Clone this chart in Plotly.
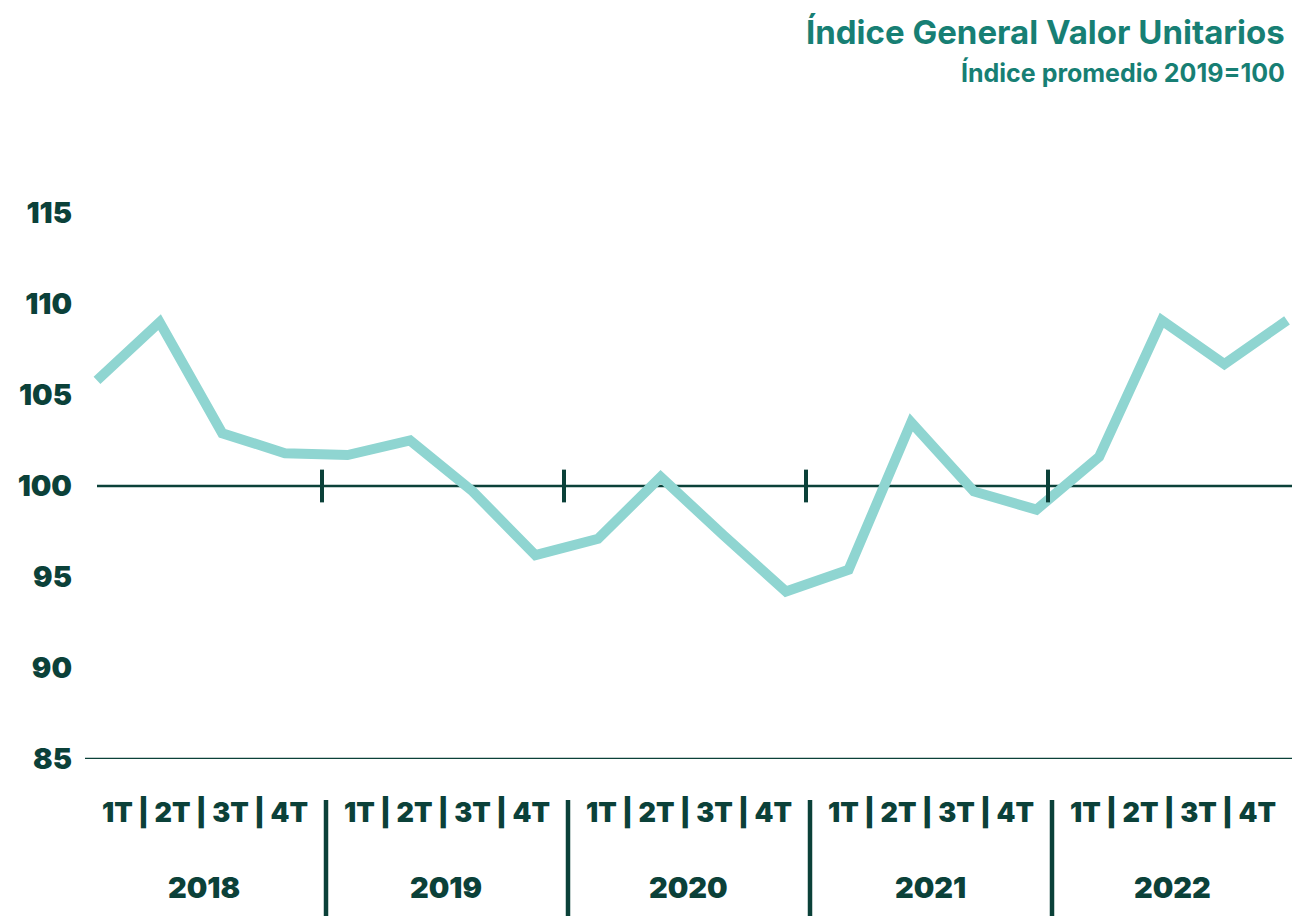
import plotly.graph_objects as go

years = ["2018", "2019", "2020", "2021", "2022"]
quarters = ["1T", "2T", "3T", "4T"]
values = [105.8, 109.0, 102.9, 101.8, 101.7, 102.5, 99.7, 96.2, 97.1, 100.5,
          97.3, 94.2, 95.4, 103.5, 99.7, 98.7, 101.6, 109.1, 106.7, 109.1]
y_ticks = [85, 90, 95, 100, 105, 110, 115]

title_text = "Índice General Valor Unitarios"
subtitle_text = "Índice promedio 2019=100"

DARK = "#0b4139"
TEAL = "#177f74"
LINE = "#8fd5d1"
FONT = "Inter"

OFF = 8  # page body margin
W, H = 1300 - OFF, 916 - OFF
ML, MR, MT, MB = 72, 10, 142, 157
plot_w = W - ML - MR
plot_h = H - MT - MB


def px(P):
    """screen x (target px) -> paper fraction"""
    return (P - OFF - ML) / plot_w


x = list(range(len(values)))
step_px = (1287 - 97) / (len(values) - 1)
x0 = -(97 - 80) / step_px
x1 = (len(values) - 1) + (1290 - 1287) / step_px

fig = go.Figure()
fig.add_trace(go.Scatter(x=x, y=values, mode="lines",
                         line=dict(color=LINE, width=10),
                         hoverinfo="skip", showlegend=False))

shapes = []
shapes.append(dict(type="line", xref="paper", yref="y", x0=px(97), x1=px(1300),
                   y0=100, y1=100, line=dict(color=DARK, width=2.5), layer="below"))
shapes.append(dict(type="line", xref="paper", yref="y", x0=px(85), x1=px(1298),
                   y0=85, y1=85, line=dict(color=DARK, width=2.5)))
n = len(years)
for k in range(1, n):
    xt = 80 + 242 * k
    shapes.append(dict(type="line", xref="paper", yref="y", x0=px(xt), x1=px(xt),
                       y0=99.1, y1=100.9, line=dict(color=DARK, width=4)))
    xs = xt + 4
    shapes.append(dict(type="line", xref="paper", yref="paper", x0=px(xs), x1=px(xs),
                       y0=-(916 - 759) / plot_h, y1=-(800 - 759) / plot_h,
                       line=dict(color=DARK, width=4.5)))

annotations = []
qlabel = " | ".join(quarters)
for k, yr in enumerate(years):
    cx = 80 + 242 * (k + 0.5)
    annotations.append(dict(xref="paper", yref="paper", x=px(cx + 4), y=0,
                            yanchor="middle", xanchor="center", yshift=-(812 - 759),
                            text=qlabel, showarrow=False,
                            font=dict(family=FONT, size=27, color=DARK, weight=900)))
    annotations.append(dict(xref="paper", yref="paper", x=px(cx + 3), y=0,
                            yanchor="middle", xanchor="center", yshift=-(887 - 759),
                            text=yr, showarrow=False,
                            font=dict(family=FONT, size=29, color=DARK, weight=900)))

annotations.append(dict(xref="paper", yref="paper", x=px(1287), y=1,
                        xanchor="right", yanchor="middle", yshift=(150 - 32),
                        text=title_text, showarrow=False,
                        font=dict(family=FONT, size=33, color=TEAL, weight=700)))
annotations.append(dict(xref="paper", yref="paper", x=px(1287), y=1,
                        xanchor="right", yanchor="middle", yshift=(150 - 72),
                        text=subtitle_text, showarrow=False,
                        font=dict(family=FONT, size=25, color=TEAL, weight=700)))

px_per_unit = (759 - 213) / 30
y_top = 115 + (213 - 150) / px_per_unit

fig.update_layout(
    width=W, height=H,
    margin=dict(l=ML, r=MR, t=MT, b=MB),
    paper_bgcolor="white", plot_bgcolor="white",
    shapes=shapes, annotations=annotations,
    xaxis=dict(range=[x0, x1], showgrid=False, zeroline=False,
               showticklabels=False, showline=False, ticks=""),
    yaxis=dict(range=[85, y_top], tickvals=y_ticks, showgrid=False, zeroline=False,
               showline=False, ticks="", ticklabelstandoff=7,
               tickfont=dict(family=FONT, size=29, color=DARK, weight=900)),
)

fig.write_html("out.html")
